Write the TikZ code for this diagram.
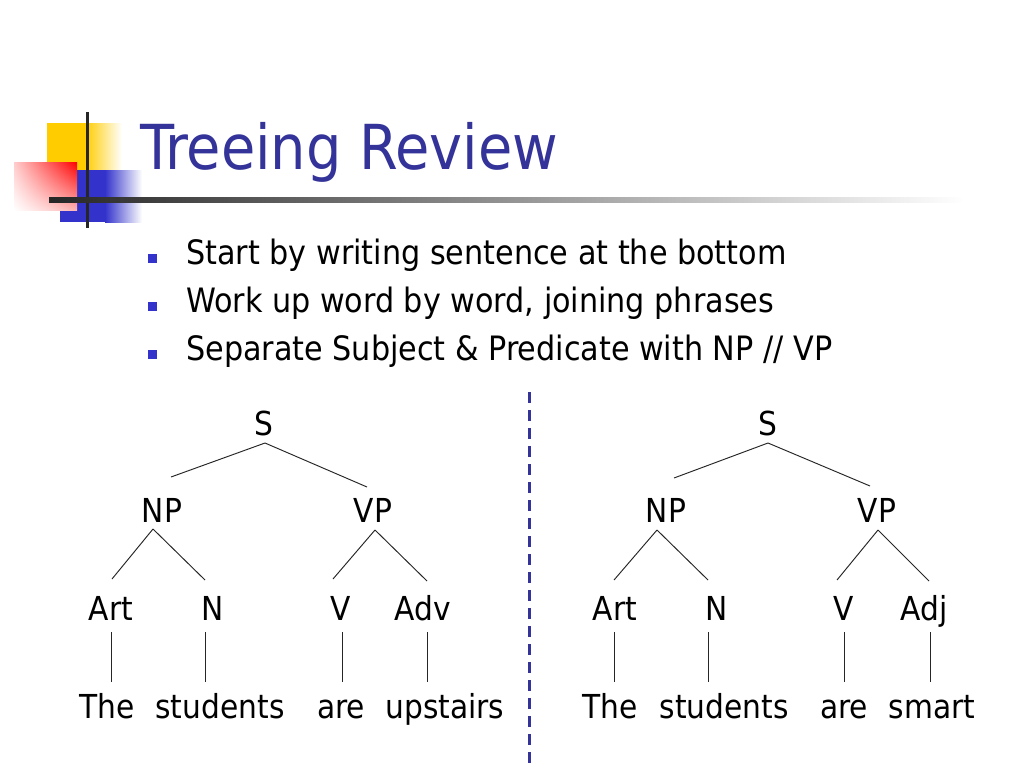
\documentclass[tikz,border=0pt]{standalone}
\usepackage{fontspec}
\setmainfont{DejaVu Sans Condensed}
\usetikzlibrary{calc,shadings}
\definecolor{titleblue}{RGB}{51,51,153}
\definecolor{bulletblue}{RGB}{51,51,204}
\definecolor{logoyellow}{RGB}{255,204,0}
\definecolor{logoblue}{RGB}{51,51,204}
\begin{document}
\begin{tikzpicture}[x=1pt,y=-1pt,
  lbl/.style={anchor=base,inner sep=0pt,font=\fontsize{33}{40}\selectfont},
  btxt/.style={anchor=base west,inner sep=0pt,font=\fontsize{33.6}{40}\selectfont},
  bul/.style={fill=bulletblue,inner sep=0pt,minimum size=9.5pt,draw=none},
  branch/.style={line width=0.95pt,black!85}]
\useasboundingbox (0,0) rectangle (1024,768);
\fill[white] (0,0) rectangle (1024,768);
% logo
\fill[logoyellow] (47,123) rectangle (85,172);
\shade[left color=logoyellow,right color=white] (85,123) rectangle (122,172);
\fill[logoblue] (60,170) rectangle (105,222);
\shade[left color=logoblue,right color=white] (105,170) rectangle (142,222);
\shade[upper right=red,upper left=red!20,lower left=white,lower right=red!30] (14,162) rectangle (77,210);
\draw[line width=3pt,black!85] (87,112) -- (87,228);
\shade[left color=black!85,middle color=black!35,right color=white] (49,197.5) rectangle (965,202.5);
% title
\node[anchor=base west,inner sep=0pt,text=titleblue,font=\fontsize{62}{70}\selectfont] (title) at (140,169) {Treeing Review};
% bullets
\node[bul] (b1) at (152.5,258.5) {};
\node[bul] (b2) at (152.5,306.5) {};
\node[bul] (b3) at (152.5,354.5) {};
\node[btxt] (t1) at (186,264) {Start by writing sentence at the bottom};
\node[btxt] (t2) at (186,312) {Work up word by word, joining phrases};
\node[btxt] (t3) at (186,360) {Separate Subject \& Predicate with NP // VP};
% divider
\coordinate (dtop) at (529,392);
\coordinate (dbot) at (529,770);
\draw[titleblue,line width=3pt,dash pattern=on 11pt off 7pt] (dtop) -- (dbot);
% left tree
\node[lbl] (S1) at (264,435) {S};
\node[lbl] (NP1) at (162,522) {NP};
\node[lbl] (VP1) at (373,522) {VP};
\node[lbl] (Art1) at (111,620) {Art};
\node[lbl] (N1) at (213,620) {N};
\node[lbl] (V1) at (341,620) {V};
\node[lbl] (Adv1) at (423,620) {Adv};
\node[lbl] (The1) at (107,718) {The};
\node[lbl] (stu1) at (220,718) {students};
\node[lbl] (are1) at (341,718) {are};
\node[lbl] (ups1) at (445,718) {upstairs};
\draw[branch] ($(S1.base)+(1,8)$) -- ($(NP1.base)+(9,-45)$);
\draw[branch] ($(S1.base)+(1,8)$) -- ($(VP1.base)+(-6,-35)$);
\draw[branch] ($(NP1.base)+(-9,7)$) -- ($(Art1.base)+(1,-41)$);
\draw[branch] ($(NP1.base)+(-9,7)$) -- ($(N1.base)+(-8,-40)$);
\draw[branch] ($(VP1.base)+(2,8)$) -- ($(V1.base)+(-8,-41)$);
\draw[branch] ($(VP1.base)+(2,8)$) -- ($(Adv1.base)+(4,-39)$);
\draw[branch] ($(Art1.base)+(0,12)$) -- ($(The1.base)+(4,-36)$);
\draw[branch] ($(N1.base)+(-8,12)$) -- ($(stu1.base)+(-15,-36)$);
\draw[branch] ($(V1.base)+(1,12)$) -- ($(are1.base)+(1,-36)$);
\draw[branch] ($(Adv1.base)+(4,12)$) -- ($(ups1.base)+(-18,-36)$);
% right tree
\node[lbl] (S2) at (768,435) {S};
\node[lbl] (NP2) at (666,522) {NP};
\node[lbl] (VP2) at (877,522) {VP};
\node[lbl] (Art2) at (615,620) {Art};
\node[lbl] (N2) at (717,620) {N};
\node[lbl] (V2) at (844,620) {V};
\node[lbl] (Adj2) at (924,620) {Adj};
\node[lbl] (The2) at (610,718) {The};
\node[lbl] (stu2) at (724,718) {students};
\node[lbl] (are2) at (844,718) {are};
\node[lbl] (sma2) at (932,718) {smart};
\draw[branch] ($(S2.base)+(0,8)$) -- ($(NP2.base)+(8,-44)$);
\draw[branch] ($(S2.base)+(0,8)$) -- ($(VP2.base)+(-7,-36)$);
\draw[branch] ($(NP2.base)+(-9,8)$) -- ($(Art2.base)+(-1,-40)$);
\draw[branch] ($(NP2.base)+(-9,8)$) -- ($(N2.base)+(-9,-40)$);
\draw[branch] ($(VP2.base)+(1,8)$) -- ($(V2.base)+(-7,-40)$);
\draw[branch] ($(VP2.base)+(1,8)$) -- ($(Adj2.base)+(5,-39)$);
\draw[branch] ($(Art2.base)+(-1,12)$) -- ($(The2.base)+(4,-36)$);
\draw[branch] ($(N2.base)+(-9,12)$) -- ($(stu2.base)+(-16,-36)$);
\draw[branch] ($(V2.base)+(0,12)$) -- ($(are2.base)+(0,-36)$);
\draw[branch] ($(Adj2.base)+(6,12)$) -- ($(sma2.base)+(-2,-36)$);
\end{tikzpicture}
\end{document}
